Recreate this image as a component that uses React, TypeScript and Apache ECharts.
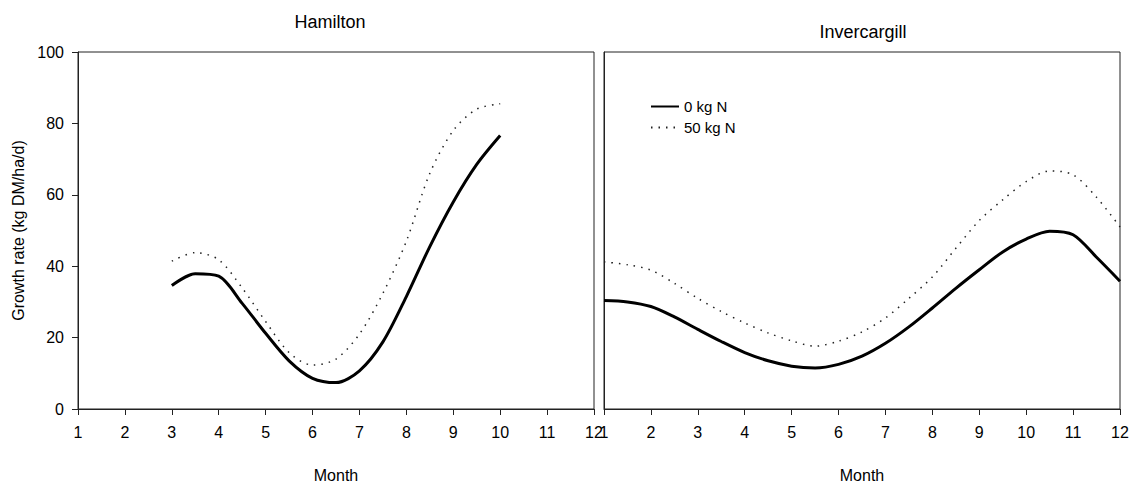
import React, { useEffect, useRef } from "react";
import * as echarts from "echarts";

const monthTicks = [1, 2, 3, 4, 5, 6, 7, 8, 9, 10, 11, 12];
const yTicks = [0, 20, 40, 60, 80, 100];

const hamiltonMonths = [3, 3.5, 4, 4.5, 5, 5.5, 6, 6.5, 7, 7.5, 8, 8.5, 9, 9.5, 10];
const hamiltonZeroN = [34.6, 37.9, 37.2, 29.6, 21.2, 13.5, 8.6, 7.4, 10.7, 18.8, 31.5, 45.5, 58.0, 68.5, 76.6];
const hamiltonFiftyN = [41.4, 43.8, 41.8, 33.9, 24.5, 15.8, 12.3, 14.0, 21.0, 32.4, 47.0, 66.0, 78.0, 84.0, 85.5];

const invercargillMonths = [1, 1.5, 2, 2.5, 3, 3.5, 4, 4.5, 5, 5.5, 6, 6.5, 7, 7.5, 8, 8.5, 9, 9.5, 10, 10.5, 11, 11.5, 12];
const invercargillZeroN = [30.4, 30.0, 28.7, 25.8, 22.3, 18.9, 15.8, 13.5, 12.0, 11.5, 12.5, 14.8, 18.4, 23.0, 28.3, 33.8, 39.0, 44.0, 47.6, 49.8, 48.8, 42.5, 35.8];
const invercargillFiftyN = [41.2, 40.4, 38.9, 35.2, 31.0, 27.3, 24.1, 21.3, 19.1, 17.6, 19.0, 21.6, 25.5, 31.0, 37.0, 45.0, 52.8, 58.6, 63.7, 66.7, 65.6, 59.3, 51.0];

const seriesNames = ["0 kg N", "50 kg N"];
const panelTitles = ["Hamilton", "Invercargill"];

const FONT = "'Liberation Sans', Arial, sans-serif";

function zip(xs: number[], ys: number[]) {
  return xs.map((x, i) => [x, ys[i]]);
}

export default function App() {
  const ref = useRef<HTMLDivElement>(null);
  useEffect(() => {
    if (!ref.current) return;
    const chart = echarts.init(ref.current, undefined, { renderer: "svg" });
    const xAxisBase = (gridIndex: number) => ({
      type: "value",
      gridIndex,
      min: monthTicks[0],
      max: monthTicks[monthTicks.length - 1],
      interval: 1,
      name: "Month",
      nameLocation: "middle",
      nameGap: 58,
      nameTextStyle: { fontFamily: FONT, fontSize: 16, color: "#000" },
      axisLine: { show: true, onZero: false, lineStyle: { color: "#222", width: 1 } },
      axisTick: { show: true, inside: false, length: 6, lineStyle: { color: "#222" } },
      axisLabel: { fontFamily: FONT, fontSize: 16, color: "#000", margin: 15 },
      splitLine: { show: false },
    });
    const solid = { color: "#000", width: 3, type: "solid" };
    const dotted = { color: "#222", width: 1.5, type: [1.5, 6] };
    const common = { type: "line", smooth: 0.3, symbol: "none" };
    chart.setOption({
      animation: false,
      backgroundColor: "#fff",
      title: [
        {
          text: panelTitles[0],
          left: 325,
          top: 8,
          textAlign: "center",
          textStyle: { fontFamily: FONT, fontSize: 18, fontWeight: "normal", color: "#000" },
        },
        {
          text: panelTitles[1],
          left: 858,
          top: 18,
          textAlign: "center",
          textStyle: { fontFamily: FONT, fontSize: 18, fontWeight: "normal", color: "#000" },
        },
      ],
      legend: {
        data: seriesNames,
        orient: "vertical",
        left: 645,
        top: 94,
        itemWidth: 28,
        itemHeight: 14,
        itemGap: 6,
        itemStyle: { opacity: 0 },
        textStyle: { fontFamily: FONT, fontSize: 15, color: "#000" },
      },
      grid: [
        { left: 78, top: 52, width: 516, height: 362, show: true, borderColor: "#222", borderWidth: 1, backgroundColor: "transparent" },
        { left: 604, top: 52, width: 516, height: 362, show: true, borderColor: "#222", borderWidth: 1, backgroundColor: "transparent" },
      ],
      xAxis: [xAxisBase(0), xAxisBase(1)],
      yAxis: [
        {
          type: "value",
          gridIndex: 0,
          min: yTicks[0],
          max: yTicks[yTicks.length - 1],
          interval: 20,
          name: "Growth rate (kg DM/ha/d)",
          nameLocation: "middle",
          nameGap: 52,
          nameTextStyle: { fontFamily: FONT, fontSize: 16, color: "#000" },
          axisLine: { show: true, lineStyle: { color: "#222" } },
          axisTick: { show: true, length: 6, lineStyle: { color: "#222" } },
          axisLabel: { fontFamily: FONT, fontSize: 16, color: "#000", margin: 14 },
          splitLine: { show: false },
        },
        {
          type: "value",
          gridIndex: 1,
          min: yTicks[0],
          max: yTicks[yTicks.length - 1],
          interval: 20,
          axisLine: { show: true, lineStyle: { color: "#222" } },
          axisTick: { show: false },
          axisLabel: { show: false },
          splitLine: { show: false },
        },
      ],
      series: [
        {
          ...common,
          name: seriesNames[0],
          xAxisIndex: 0,
          yAxisIndex: 0,
          data: zip(hamiltonMonths, hamiltonZeroN),
          lineStyle: solid,
          itemStyle: { color: "#000" },
        },
        {
          ...common,
          name: seriesNames[1],
          xAxisIndex: 0,
          yAxisIndex: 0,
          data: zip(hamiltonMonths, hamiltonFiftyN),
          lineStyle: dotted,
          itemStyle: { color: "#222" },
        },
        {
          ...common,
          name: seriesNames[0],
          xAxisIndex: 1,
          yAxisIndex: 1,
          data: zip(invercargillMonths, invercargillZeroN),
          lineStyle: solid,
          itemStyle: { color: "#000" },
        },
        {
          ...common,
          name: seriesNames[1],
          xAxisIndex: 1,
          yAxisIndex: 1,
          data: zip(invercargillMonths, invercargillFiftyN),
          lineStyle: dotted,
          itemStyle: { color: "#222" },
        },
      ],
    });
    return () => chart.dispose();
  }, []);
  return (
    <div
      ref={ref}
      style={{ position: "fixed", left: 0, top: 0, width: 1133, height: 488, background: "#fff" }}
    />
  );
}
